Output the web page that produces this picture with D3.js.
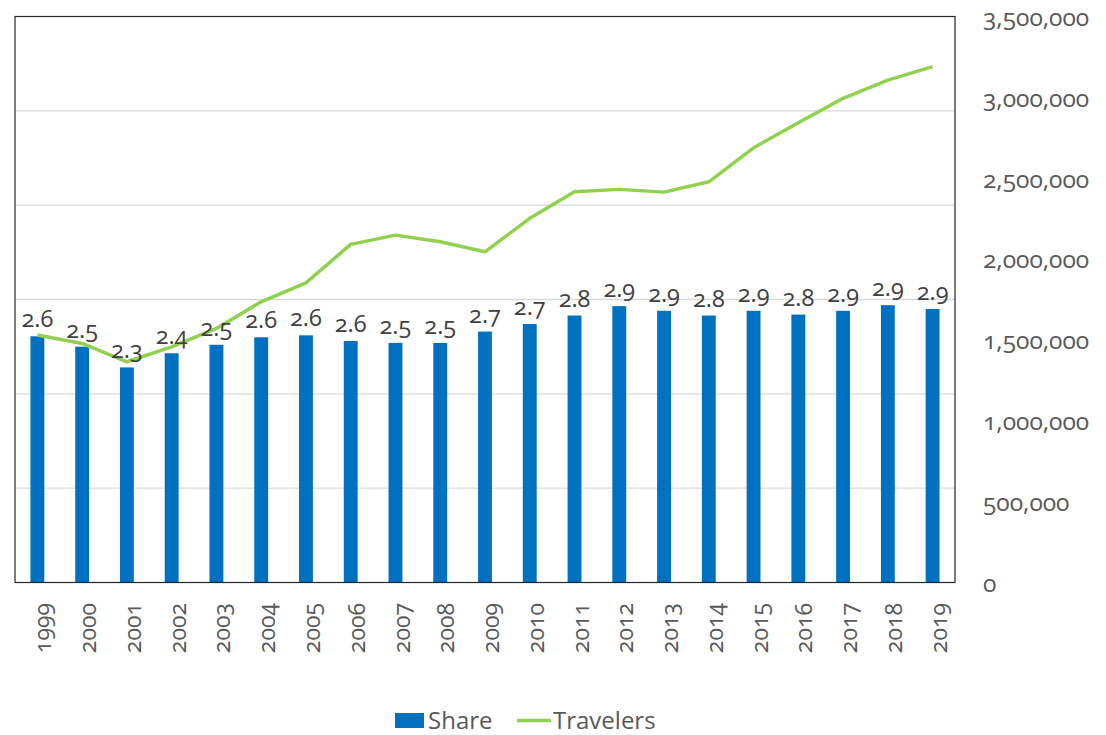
<!DOCTYPE html>
<html lang="en">
<head>
    <meta charset="UTF-8">
    <title>Share and Travelers</title>
    <script src="https://cdn.jsdelivr.net/npm/d3@7"></script>
    <style>
        body{ margin:0; background:#fff; }
        svg{ display:block; font-family:"Open Sans", sans-serif; font-variant-numeric: oldstyle-nums; }
        .tick-label{ fill:#595959; font-size:23px; }
        .right-label{ fill:#595959; font-size:24.5px; }
        .data-label{ fill:#404040; font-size:23.5px; }
        .legend-label{ fill:#595959; font-size:24px; }
    </style>
</head>
<body>
<svg width="1106" height="735"></svg>

<script>
    // data
    const years = ["1999","2000","2001","2002","2003","2004","2005","2006","2007","2008","2009",
                   "2010","2011","2012","2013","2014","2015","2016","2017","2018","2019"]
    const share = [2.61,2.50,2.28,2.43,2.52,2.60,2.62,2.56,2.54,2.54,2.66,
                   2.74,2.83,2.93,2.88,2.83,2.88,2.84,2.88,2.94,2.90]
    const travelers = [1530000,1478000,1365000,1457000,1571000,1736000,1853000,2091000,2148000,2107000,2045000,
                       2252000,2416000,2431000,2414000,2478000,2688000,2843000,2994000,3107000,3190000]
    const rightTicks = [0,500000,1000000,1500000,2000000,2500000,3000000,3500000]
    const leftGrid = [1,2,3,4,5]

    const svg = d3.select("svg")
    const plot = {left:15, top:16.5, right:955, bottom:582.5}

    const x = d3.scaleBand().domain(years).range([plot.left, plot.right]).padding(0)
    const yShare = d3.scaleLinear().domain([0,6]).range([plot.bottom, plot.top])
    const yTrav = d3.scaleLinear().domain([0,3500000]).range([plot.bottom, plot.top])
    const barW = x.bandwidth()*0.31
    const cx = d => x(d) + x.bandwidth()/2

    // gridlines (left, hidden axis)
    svg.append("g").selectAll("line")
        .data(leftGrid)
        .enter().append("line")
        .attr("x1",plot.left).attr("x2",plot.right)
        .attr("y1",d=>yShare(d)).attr("y2",d=>yShare(d))
        .attr("stroke","#d9d9d9").attr("stroke-width",1.3)

    // bars
    svg.append("g").selectAll("rect")
        .data(years)
        .enter().append("rect")
        .attr("x",d=>cx(d)-barW/2)
        .attr("width",barW)
        .attr("y",(d,i)=>yShare(share[i]))
        .attr("height",(d,i)=>yShare(0)-yShare(share[i]))
        .attr("fill","#0070c0")

    // travelers line
    const line = d3.line().x((d,i)=>cx(years[i])).y(d=>yTrav(d))
    svg.append("path")
        .datum(travelers)
        .attr("d",line)
        .attr("fill","none")
        .attr("stroke","#92d050")
        .attr("stroke-width",3.5)
        .attr("stroke-linejoin","round")

    // data labels
    svg.append("g").selectAll("text")
        .data(years)
        .enter().append("text")
        .attr("class","data-label")
        .attr("x",d=>cx(d))
        .attr("y",(d,i)=>yShare(share[i])-9)
        .attr("text-anchor","middle")
        .text((d,i)=>d3.format(".1f")(share[i]))

    // plot border
    svg.append("rect")
        .attr("x",plot.left).attr("y",plot.top)
        .attr("width",plot.right-plot.left).attr("height",plot.bottom-plot.top)
        .attr("fill","none").attr("stroke","#262626").attr("stroke-width",1.2)

    // right axis labels
    svg.append("g").selectAll("text")
        .data(rightTicks)
        .enter().append("text")
        .attr("class","right-label")
        .attr("x",983)
        .attr("y",d=>yTrav(d))
        .attr("dy","0.38em")
        .text(d=>d3.format(",")(d))

    // year labels, rotated
    svg.append("g").selectAll("text")
        .data(years)
        .enter().append("text")
        .attr("class","tick-label")
        .attr("transform",d=>`translate(${cx(d)+6},603) rotate(-90)`)
        .attr("text-anchor","end")
        .attr("dy","0.35em")
        .text(d=>d)

    // legend
    const legend = svg.append("g")
    legend.append("rect").attr("x",395).attr("y",713).attr("width",29).attr("height",15).attr("fill","#0070c0")
    legend.append("text").attr("class","legend-label").attr("x",428).attr("y",729).text("Share")
    legend.append("line").attr("x1",517).attr("x2",551).attr("y1",720.5).attr("y2",720.5)
        .attr("stroke","#92d050").attr("stroke-width",3.5)
    legend.append("text").attr("class","legend-label").attr("x",553).attr("y",729).text("Travelers")
</script>
</body>
</html>
